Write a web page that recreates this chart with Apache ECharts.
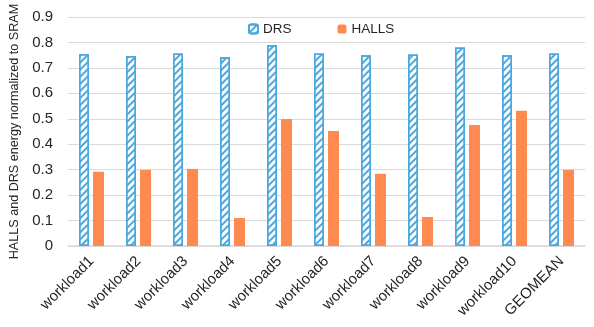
<!DOCTYPE html>
<html>
<head>
<meta charset="utf-8">
<script src="https://cdn.jsdelivr.net/npm/echarts@6/dist/echarts.min.js"></script>
<style>
  html, body { margin: 0; padding: 0; background: #fff; }
  #chart { width: 594px; height: 327px; }
</style>
</head>
<body>
<div id="chart"></div>
<script>
var categories = ["workload1", "workload2", "workload3", "workload4", "workload5",
  "workload6", "workload7", "workload8", "workload9", "workload10", "GEOMEAN"];
var drs = [0.755, 0.747, 0.757, 0.742, 0.789, 0.757, 0.750, 0.753, 0.780, 0.750, 0.757];
var halls = [0.292, 0.299, 0.303, 0.110, 0.499, 0.452, 0.284, 0.114, 0.476, 0.532, 0.299];
var yTicks = [0, 0.1, 0.2, 0.3, 0.4, 0.5, 0.6, 0.7, 0.8, 0.9];

var font = "Liberation Sans";
var chart = echarts.init(document.getElementById("chart"));
chart.setOption({
  animation: false,
  legend: {
    top: 17,
    left: 243,
    itemWidth: 9,
    itemHeight: 9,
    itemGap: 46,
    textStyle: { fontFamily: font, fontSize: 13.5, color: "#262626" },
    data: ["DRS", "HALLS"]
  },
  grid: { left: 62, right: 9, top: 17, bottom: 81 },
  xAxis: {
    type: "category",
    data: categories,
    axisLine: { lineStyle: { color: "#d9d9d9", width: 1.5 } },
    axisTick: { show: false },
    axisLabel: {
      rotate: 45,
      interval: 0,
      margin: 13,
      fontFamily: font,
      fontSize: 15,
      color: "#262626"
    }
  },
  yAxis: {
    type: "value",
    min: yTicks[0],
    max: yTicks[yTicks.length - 1],
    interval: 0.1,
    name: "HALLS and DRS energy normalized to SRAM",
    nameLocation: "middle",
    nameGap: 47,
    nameTextStyle: { fontFamily: font, fontSize: 12.6, color: "#262626" },
    axisLine: { show: false },
    axisTick: { show: false },
    splitLine: { lineStyle: { color: "#d9d9d9", width: 1 } },
    axisLabel: {
      fontFamily: font,
      fontSize: 15,
      color: "#262626",
      margin: 15,
      formatter: function (v) { return v === 0 ? "0" : v.toFixed(1); }
    }
  },
  series: [
    {
      name: "DRS",
      type: "bar",
      data: drs,
      barWidth: 10,
      barGap: "40%",
      itemStyle: {
        color: "#ffffff",
        borderColor: "#4aa8de",
        borderWidth: 1.5,
        decal: {
          symbol: "rect",
          color: "#4aa8de",
          dashArrayX: [1, 0],
          dashArrayY: [2, 3],
          rotation: -Math.PI / 4
        }
      }
    },
    {
      name: "HALLS",
      type: "bar",
      data: halls,
      barWidth: 11,
      itemStyle: { color: "#ff8a4f" }
    }
  ]
});
</script>
</body>
</html>
